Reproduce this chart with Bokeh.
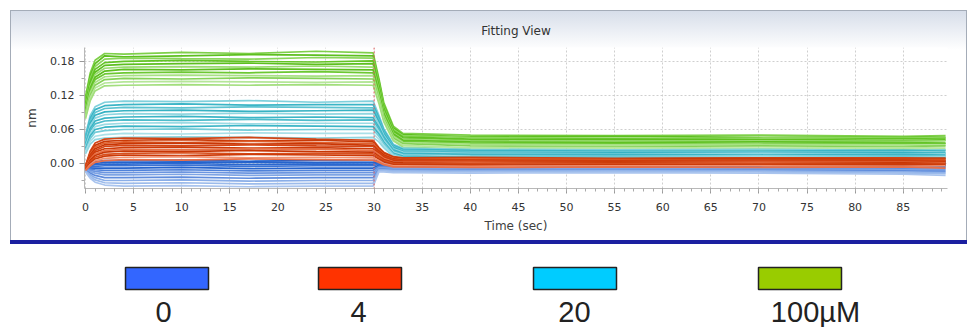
from bokeh.plotting import figure
from bokeh.models import Range1d, FixedTicker, PrintfTickFormatter, Span
from bokeh.embed import file_html
from bokeh.resources import INLINE
from bokeh.core.properties import value

# ---------------- data ----------------
time_s = [0, 0.5, 1, 2, 4, 10, 17, 24, 29.9, 30.5, 31, 32, 33, 40, 55, 70, 85, 89.4]
switch_time = 30

conc_100 = [
    [0.118, 0.160, 0.182, 0.194, 0.193, 0.196, 0.194, 0.198, 0.195, 0.150, 0.108, 0.066, 0.053, 0.050, 0.049, 0.050, 0.048, 0.049],
    [0.112, 0.155, 0.176, 0.190, 0.188, 0.190, 0.192, 0.191, 0.190, 0.146, 0.104, 0.063, 0.051, 0.047, 0.048, 0.046, 0.047, 0.046],
    [0.108, 0.150, 0.171, 0.184, 0.186, 0.185, 0.184, 0.187, 0.186, 0.142, 0.101, 0.060, 0.049, 0.046, 0.044, 0.045, 0.046, 0.045],
    [0.104, 0.146, 0.166, 0.178, 0.180, 0.182, 0.180, 0.179, 0.181, 0.138, 0.098, 0.058, 0.047, 0.043, 0.043, 0.042, 0.044, 0.043],
    [0.100, 0.141, 0.161, 0.173, 0.175, 0.176, 0.177, 0.175, 0.176, 0.134, 0.095, 0.056, 0.045, 0.041, 0.042, 0.041, 0.040, 0.041],
    [0.097, 0.137, 0.157, 0.168, 0.170, 0.171, 0.170, 0.172, 0.170, 0.130, 0.092, 0.054, 0.043, 0.040, 0.039, 0.040, 0.039, 0.040],
    [0.094, 0.133, 0.152, 0.163, 0.166, 0.165, 0.167, 0.166, 0.165, 0.126, 0.089, 0.052, 0.041, 0.038, 0.037, 0.038, 0.037, 0.036],
    [0.091, 0.129, 0.148, 0.158, 0.160, 0.161, 0.160, 0.162, 0.160, 0.122, 0.086, 0.050, 0.039, 0.036, 0.035, 0.035, 0.036, 0.035],
    [0.088, 0.125, 0.143, 0.153, 0.155, 0.156, 0.155, 0.154, 0.155, 0.118, 0.083, 0.048, 0.037, 0.034, 0.033, 0.034, 0.033, 0.032],
    [0.085, 0.120, 0.138, 0.148, 0.150, 0.149, 0.151, 0.150, 0.149, 0.114, 0.080, 0.045, 0.035, 0.031, 0.030, 0.031, 0.030, 0.031],
    [0.082, 0.116, 0.133, 0.142, 0.144, 0.145, 0.144, 0.143, 0.144, 0.110, 0.077, 0.042, 0.032, 0.028, 0.028, 0.027, 0.028, 0.027],
    [0.079, 0.111, 0.128, 0.137, 0.138, 0.139, 0.138, 0.139, 0.138, 0.106, 0.074, 0.040, 0.029, 0.025, 0.025, 0.024, 0.025, 0.024],
]
conc_20 = [
    [0.050, 0.085, 0.100, 0.108, 0.110, 0.109, 0.111, 0.108, 0.110, 0.085, 0.062, 0.034, 0.027, 0.025, 0.024, 0.025, 0.023, 0.024],
    [0.047, 0.080, 0.095, 0.102, 0.104, 0.105, 0.103, 0.104, 0.104, 0.081, 0.059, 0.032, 0.025, 0.023, 0.022, 0.022, 0.023, 0.022],
    [0.044, 0.076, 0.090, 0.097, 0.099, 0.098, 0.100, 0.099, 0.098, 0.077, 0.056, 0.030, 0.023, 0.021, 0.020, 0.021, 0.020, 0.019],
    [0.041, 0.071, 0.085, 0.091, 0.093, 0.094, 0.092, 0.093, 0.094, 0.073, 0.053, 0.028, 0.021, 0.019, 0.019, 0.018, 0.019, 0.018],
    [0.038, 0.067, 0.080, 0.086, 0.088, 0.087, 0.089, 0.087, 0.088, 0.069, 0.050, 0.026, 0.020, 0.018, 0.017, 0.017, 0.016, 0.017],
    [0.035, 0.062, 0.075, 0.080, 0.082, 0.083, 0.081, 0.082, 0.081, 0.064, 0.047, 0.024, 0.018, 0.016, 0.016, 0.015, 0.016, 0.015],
    [0.032, 0.058, 0.070, 0.075, 0.077, 0.076, 0.078, 0.076, 0.077, 0.060, 0.044, 0.022, 0.016, 0.014, 0.014, 0.013, 0.014, 0.013],
    [0.029, 0.053, 0.065, 0.069, 0.071, 0.072, 0.070, 0.071, 0.071, 0.056, 0.041, 0.020, 0.015, 0.013, 0.012, 0.013, 0.012, 0.012],
    [0.026, 0.049, 0.060, 0.064, 0.066, 0.065, 0.067, 0.066, 0.065, 0.052, 0.038, 0.018, 0.013, 0.011, 0.011, 0.010, 0.011, 0.010],
    [0.023, 0.044, 0.055, 0.058, 0.060, 0.061, 0.059, 0.060, 0.060, 0.048, 0.035, 0.016, 0.011, 0.010, 0.009, 0.010, 0.009, 0.009],
    [0.020, 0.039, 0.048, 0.051, 0.053, 0.052, 0.054, 0.053, 0.053, 0.043, 0.031, 0.014, 0.009, 0.008, 0.008, 0.007, 0.008, 0.007],
    [0.017, 0.034, 0.042, 0.045, 0.046, 0.047, 0.046, 0.045, 0.046, 0.038, 0.028, 0.012, 0.007, 0.006, 0.006, 0.005, 0.006, 0.005],
]
conc_4 = [
    [-0.004, 0.022, 0.036, 0.043, 0.045, 0.044, 0.046, 0.043, 0.041, 0.028, 0.020, 0.012, 0.010, 0.011, 0.009, 0.010, 0.010, 0.009],
    [-0.005, 0.019, 0.032, 0.039, 0.041, 0.042, 0.040, 0.041, 0.038, 0.026, 0.018, 0.011, 0.009, 0.009, 0.008, 0.009, 0.008, 0.009],
    [-0.006, 0.017, 0.029, 0.036, 0.038, 0.037, 0.039, 0.037, 0.035, 0.024, 0.016, 0.009, 0.007, 0.008, 0.007, 0.006, 0.007, 0.007],
    [-0.007, 0.015, 0.026, 0.033, 0.035, 0.036, 0.034, 0.035, 0.032, 0.022, 0.015, 0.008, 0.006, 0.006, 0.005, 0.006, 0.006, 0.005],
    [-0.008, 0.013, 0.023, 0.030, 0.032, 0.031, 0.033, 0.031, 0.030, 0.020, 0.013, 0.007, 0.005, 0.005, 0.004, 0.005, 0.004, 0.005],
    [-0.008, 0.010, 0.020, 0.026, 0.028, 0.029, 0.027, 0.028, 0.026, 0.018, 0.011, 0.005, 0.004, 0.003, 0.004, 0.003, 0.004, 0.003],
    [-0.009, 0.008, 0.017, 0.023, 0.025, 0.024, 0.026, 0.025, 0.023, 0.016, 0.009, 0.003, 0.002, 0.002, 0.001, 0.002, 0.002, 0.001],
    [-0.010, 0.006, 0.014, 0.020, 0.022, 0.021, 0.023, 0.021, 0.020, 0.013, 0.007, 0.002, 0.001, 0.000, 0.001, 0.000, 0.001, 0.000],
    [-0.010, 0.003, 0.011, 0.016, 0.018, 0.019, 0.017, 0.018, 0.017, 0.011, 0.005, 0.000, -0.001, -0.001, 0.000, -0.001, -0.002, -0.001],
    [-0.011, 0.001, 0.008, 0.013, 0.015, 0.014, 0.016, 0.015, 0.014, 0.008, 0.003, -0.002, -0.002, -0.003, -0.002, -0.003, -0.002, -0.003],
    [-0.012, -0.002, 0.005, 0.009, 0.011, 0.012, 0.010, 0.011, 0.010, 0.005, 0.000, -0.004, -0.004, -0.005, -0.004, -0.004, -0.005, -0.004],
    [-0.012, -0.004, 0.002, 0.005, 0.007, 0.006, 0.008, 0.007, 0.006, 0.002, -0.002, -0.006, -0.006, -0.007, -0.006, -0.007, -0.006, -0.008],
]
conc_0 = [
    [-0.004, 0.000, 0.003, 0.005, 0.005, 0.006, 0.004, 0.005, 0.005, 0.005, 0.005, 0.004, 0.004, 0.003, 0.004, 0.005, 0.004, 0.003],
    [-0.005, -0.002, 0.000, 0.002, 0.002, 0.003, 0.002, 0.001, 0.002, 0.003, 0.003, 0.002, 0.002, 0.001, 0.002, 0.001, 0.002, 0.001],
    [-0.006, -0.004, -0.002, -0.001, -0.001, 0.000, -0.002, -0.001, -0.001, 0.001, 0.001, 0.000, 0.000, -0.001, 0.000, -0.001, -0.001, 0.000],
    [-0.007, -0.006, -0.005, -0.004, -0.004, -0.003, -0.005, -0.004, -0.004, -0.001, -0.001, -0.002, -0.002, -0.003, -0.002, -0.003, -0.004, -0.003],
    [-0.008, -0.008, -0.008, -0.008, -0.008, -0.007, -0.009, -0.008, -0.008, -0.003, -0.003, -0.004, -0.004, -0.005, -0.004, -0.005, -0.006, -0.005],
    [-0.009, -0.010, -0.011, -0.012, -0.012, -0.011, -0.013, -0.012, -0.012, -0.005, -0.005, -0.006, -0.006, -0.007, -0.006, -0.007, -0.008, -0.007],
    [-0.010, -0.012, -0.014, -0.016, -0.016, -0.015, -0.017, -0.016, -0.016, -0.007, -0.007, -0.008, -0.008, -0.009, -0.008, -0.009, -0.010, -0.010],
    [-0.011, -0.014, -0.017, -0.020, -0.020, -0.019, -0.021, -0.020, -0.020, -0.008, -0.008, -0.009, -0.009, -0.010, -0.009, -0.010, -0.011, -0.012],
    [-0.012, -0.017, -0.021, -0.025, -0.025, -0.024, -0.026, -0.025, -0.025, -0.010, -0.010, -0.011, -0.011, -0.012, -0.011, -0.012, -0.013, -0.014],
    [-0.013, -0.020, -0.025, -0.030, -0.030, -0.029, -0.031, -0.030, -0.030, -0.011, -0.011, -0.012, -0.012, -0.013, -0.012, -0.013, -0.015, -0.016],
    [-0.014, -0.023, -0.029, -0.034, -0.035, -0.034, -0.036, -0.035, -0.035, -0.013, -0.013, -0.014, -0.014, -0.015, -0.014, -0.015, -0.017, -0.018],
    [-0.015, -0.026, -0.033, -0.038, -0.040, -0.039, -0.041, -0.040, -0.040, -0.015, -0.015, -0.016, -0.016, -0.017, -0.016, -0.017, -0.019, -0.021],
]

y_ticks = [0.00, 0.06, 0.12, 0.18]
y_minor = [-0.03, 0.03, 0.09, 0.15]
x_ticks = list(range(0, 90, 5))
x_minor = list(range(0, 90))

legend_labels = ["0", "4", "20", "100\u00b5M"]
legend_colors = ["#3366ff", "#ff3300", "#00ccff", "#99cc00"]

# ---------------- styles ----------------
green_shades = ["#7fd04a", "#5dbf1f", "#8ad65a", "#63c425", "#5dbf1f", "#9adc70",
                "#5dbf1f", "#6cc832", "#a8e184", "#86d257", "#b5e698", "#a2de7c"]
cyan_shades = ["#7fd0dc", "#3bb5c6", "#5cc3d1", "#36b2c3", "#8ed6e0", "#3bb5c6",
               "#4dbccb", "#9bdbe4", "#3bb5c6", "#74ccd8", "#a9e0e8", "#8fd5df"]
red_shades = ["#d44515", "#c93a08", "#e0602d", "#c83605", "#d44515", "#cc3a08",
              "#e97248", "#c83605", "#d8501e", "#cc3a08", "#f09070", "#e8704a"]
blue_shades = ["#1f5cc8", "#2563cc", "#2a68d0", "#3a72d4", "#2563cc", "#4f82da",
               "#6b95e0", "#7ea4e4", "#5f8cdc", "#8aaee8", "#9cbbeb", "#a9c4ee"]

FONT = "DejaVu Sans"

p = figure(width=957, height=234, output_backend="svg", toolbar_location=None,
           x_range=Range1d(-0.1, 89.6), y_range=Range1d(-0.0441, 0.2046),
           min_border_left=74, min_border_right=20, min_border_top=37, min_border_bottom=56,
           background_fill_color="white", border_fill_alpha=0.0, outline_line_color=None,
           title="Fitting View",
           styles={"margin-left": "10px", "margin-top": "10px",
                   "background": "linear-gradient(#d6dde9 0px, #ffffff 40px)",
                   "box-shadow": "inset 0 -4px 0 0 #1b1fa0, inset 0 0 0 1px #a4acb8"})

p.title.align = "center"
p.title.text_font = FONT
p.title.text_font_size = "12px"
p.title.text_font_style = "normal"
p.title.text_color = "#333333"
p.title.standoff = 19

for grp, shades in ((conc_100, green_shades), (conc_20, cyan_shades),
                    (conc_0, blue_shades), (conc_4, red_shades)):
    p.multi_line(xs=[time_s] * len(grp), ys=grp, line_color=shades, line_width=1.7)

p.add_layout(Span(location=switch_time, dimension="height", line_color="#e06060",
                  line_dash="2 2", line_width=1))

p.xaxis.ticker = FixedTicker(ticks=x_ticks, minor_ticks=x_minor)
p.yaxis.ticker = FixedTicker(ticks=y_ticks, minor_ticks=y_minor)
p.yaxis.formatter = PrintfTickFormatter(format="%.2f")
p.xaxis.axis_label = "Time (sec)"
p.yaxis.axis_label = "nm"

for ax in (p.xaxis, p.yaxis):
    ax.axis_line_color = "#b8b8b8"
    ax.major_tick_line_color = "#999999"
    ax.minor_tick_line_color = "#aaaaaa"
    ax.major_tick_out = 5
    ax.major_tick_in = 0
    ax.minor_tick_out = 3
    ax.minor_tick_in = 0
    ax.major_label_text_font = FONT
    ax.major_label_text_font_size = "11px"
    ax.major_label_text_color = "#333333"
    ax.axis_label_text_font = FONT
    ax.axis_label_text_font_size = "12px"
    ax.axis_label_text_font_style = "normal"
    ax.axis_label_text_color = "#404040"

p.xaxis.major_label_standoff = 9
p.xaxis.axis_label_standoff = 5
p.yaxis.major_label_standoff = 5
p.yaxis.axis_label_standoff = 8

p.xgrid.ticker = FixedTicker(ticks=x_ticks)
p.ygrid.ticker = FixedTicker(ticks=y_ticks)
for g in (p.xgrid, p.ygrid):
    g.grid_line_color = "#cfcfcf"
    g.grid_line_dash = "2 2"
    g.grid_line_width = 1

# ---------------- legend strip ----------------
leg_box_left = [115, 308, 523, 748]
leg_text_x = [153, 348, 564, 805]
box_w = 83

q = figure(width=957, height=83, output_backend="svg", toolbar_location=None,
           x_range=Range1d(0, 957), y_range=Range1d(83, 0),
           x_axis_type=None, y_axis_type=None,
           min_border=0, min_border_left=0, min_border_right=0,
           min_border_top=0, min_border_bottom=0,
           outline_line_color=None, background_fill_color="white", border_fill_color="white",
           styles={"margin-left": "10px"})
q.grid.visible = False
q.quad(left=leg_box_left, right=[l + box_w for l in leg_box_left], top=[23] * 4, bottom=[45] * 4,
       fill_color=legend_colors, line_color="#222222", line_width=1.5)
q.text(x=leg_text_x, y=[67] * 4, text=legend_labels, text_align="center",
       text_baseline="alphabetic", text_font=value("Liberation Sans"),
       text_font_size="29px", text_color="#222222")

open("out.html", "w").write(file_html([p, q], INLINE))
